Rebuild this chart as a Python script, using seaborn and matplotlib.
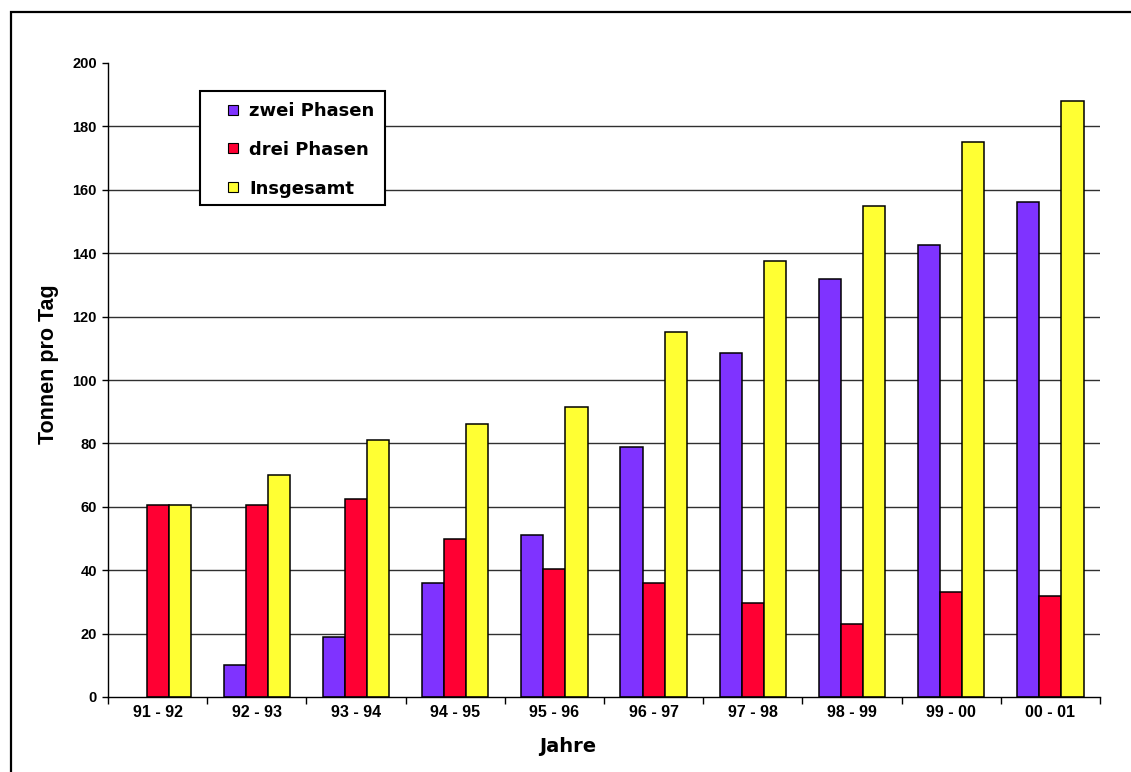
import matplotlib
matplotlib.use("Agg")
import matplotlib.pyplot as plt
from matplotlib.patches import Rectangle
from matplotlib.lines import Line2D
import numpy as np
import pandas as pd
import seaborn as sns

# Tagesmengen je Wirtschaftsjahr
jahre = ["91 - 92", "92 - 93", "93 - 94", "94 - 95", "95 - 96",
         "96 - 97", "97 - 98", "98 - 99", "99 - 00", "00 - 01"]
zwei_phasen = [0, 10, 19, 36, 51, 79, 108.5, 132, 142.5, 156]
drei_phasen = [60.5, 60.5, 62.5, 50, 40.5, 36, 29.5, 23, 33, 32]
insgesamt = [60.5, 70, 81, 86, 91.5, 115, 137.5, 155, 175, 188]

serien = ["zwei Phasen", "drei Phasen", "Insgesamt"]
farben = ["#7F33FF", "#FF0033", "#FFFF33"]
y_ticks = list(range(0, 201, 20))

df = pd.DataFrame({
    "Jahre": jahre * 3,
    "Serie": np.repeat(serien, len(jahre)),
    "Wert": zwei_phasen + drei_phasen + insgesamt,
})

sns.set_style("white")
plt.rcParams["font.family"] = ["Liberation Sans", "DejaVu Sans"]
plt.rcParams.update({"text.color": "black", "axes.labelcolor": "black",
                     "xtick.color": "black", "ytick.color": "black"})

W, H = 1131, 772
fig = plt.figure(figsize=(W / 100, H / 100), dpi=100)
ax = fig.add_axes([108 / W, 1 - 697 / H, 992 / W, 634 / H])

sns.barplot(data=df, x="Jahre", y="Wert", hue="Serie", hue_order=serien,
            order=jahre, palette=farben, saturation=1, width=0.67,
            edgecolor="black", linewidth=1.1, errorbar=None, legend=False,
            ax=ax, zorder=2)

# a bar of height zero leaves no outline
for bar in ax.patches:
    if bar.get_height() == 0:
        bar.set_visible(False)

ax.set_xlim(-0.5, len(jahre) - 0.5)
ax.set_ylim(0, 200)

# horizontal lines behind the bars (none at the top value)
ax.hlines(y_ticks[1:-1], -0.5, len(jahre) - 0.5, colors="#303030",
          linewidth=1, zorder=0.5)
ax.grid(False)

for side in ("top", "right"):
    ax.spines[side].set_visible(False)
for side in ("left", "bottom"):
    ax.spines[side].set_color("black")
    ax.spines[side].set_linewidth(1)

ax.set_yticks(y_ticks)
ax.set_yticklabels([str(v) for v in y_ticks], fontweight="bold", fontsize=10.5)
ax.tick_params(axis="y", direction="out", length=4, width=1, color="black",
               pad=4, left=True)

ax.set_xticks(range(len(jahre)))
ax.set_xticklabels(jahre, fontweight="bold", fontsize=11.5)
ax.tick_params(axis="x", which="major", length=0, pad=6)
ax.set_xticks(np.arange(-0.5, len(jahre), 1), minor=True)
ax.tick_params(axis="x", which="minor", direction="out", length=5, width=1,
               color="black", bottom=True)

ax.set_xlabel("Jahre", fontsize=14, fontweight="bold", family="DejaVu Sans")
ax.xaxis.set_label_coords((568 - 108) / 992, (697 - 737) / 634)
ax.set_ylabel("Tonnen pro Tag", fontsize=15.5, fontweight="bold")
ax.yaxis.set_label_coords((59 - 108) / 992, (697 - 364) / 634)

# legend box
ax.add_patch(Rectangle(((200 - 108) / 992, (697 - 205) / 634),
                       (385 - 200) / 992, (205 - 91) / 634,
                       transform=ax.transAxes, facecolor="white",
                       edgecolor="black", linewidth=1.5, zorder=4,
                       clip_on=False))
handles = [Line2D([], [], linestyle="none", marker="s", markersize=7,
                  markerfacecolor=c, markeredgecolor="black",
                  markeredgewidth=0.8) for c in farben]
ax.legend(handles, serien, loc="upper left",
          bbox_to_anchor=((224 - 108) / 992, (697 - 102) / 634),
          frameon=False, borderpad=0, borderaxespad=0, handlelength=1.0,
          handletextpad=0.4, labelspacing=1.15, labelcolor="black",
          prop={"family": "DejaVu Sans", "weight": "bold", "size": 13})

# outer frame of the figure
fig.add_artist(Rectangle((11 / W, -0.1), 1.5, 1.1 - 12 / H,
                         transform=fig.transFigure, fill=False,
                         edgecolor="black", linewidth=1.6))

fig.savefig("out.png", dpi=100)
